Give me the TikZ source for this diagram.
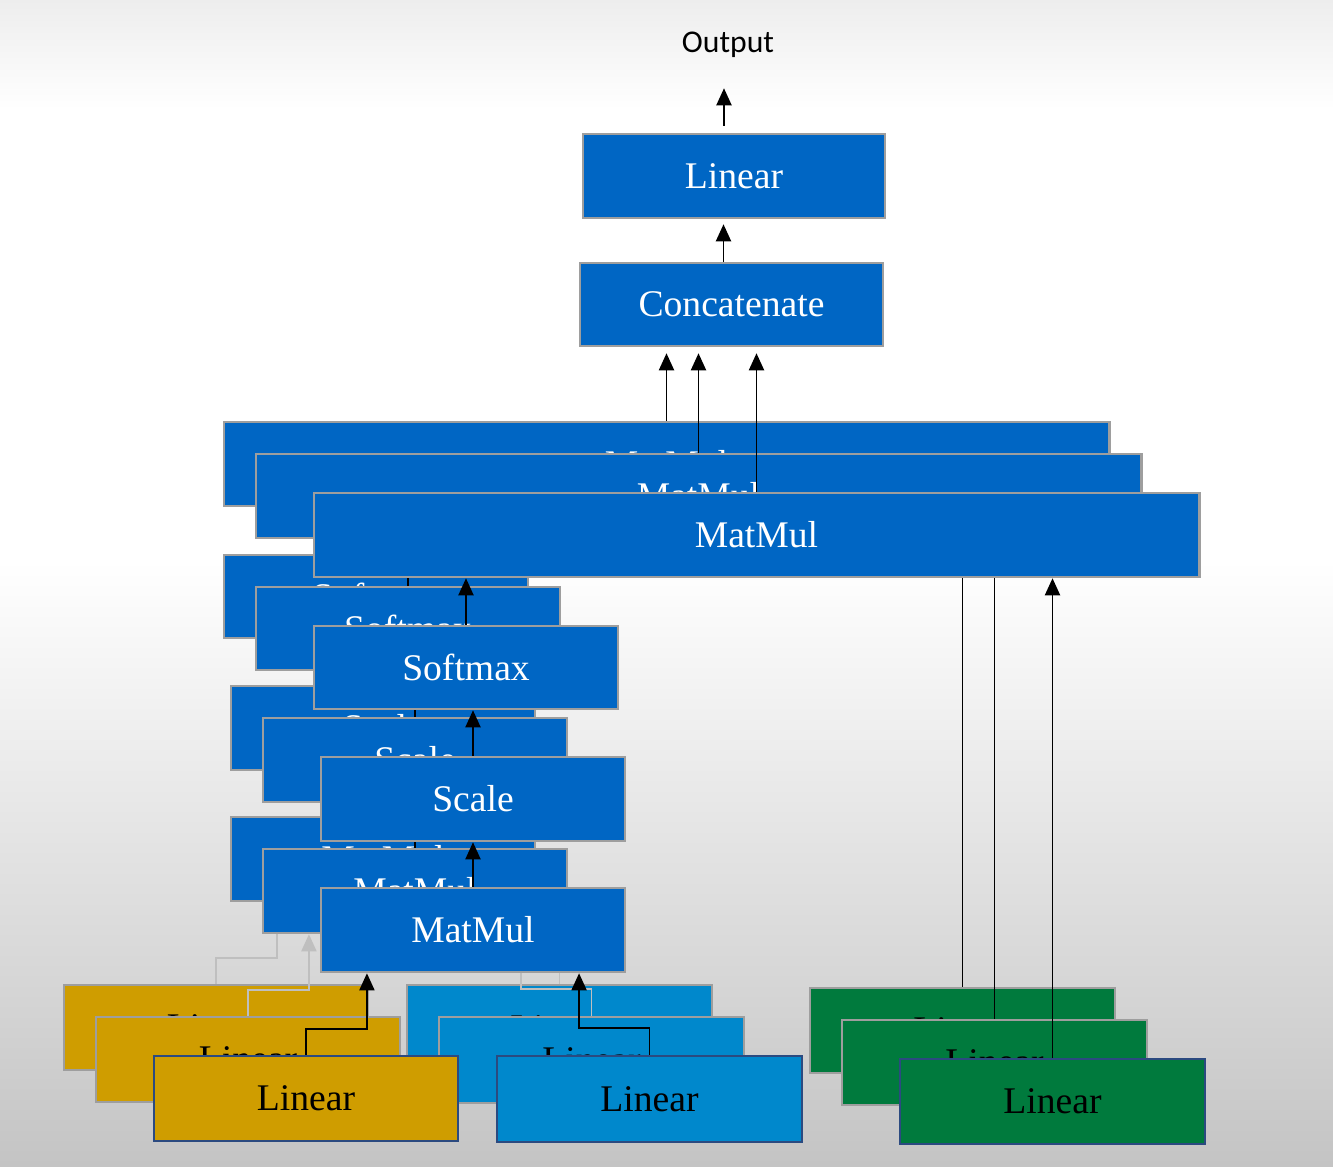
\documentclass[tikz,border=0pt]{standalone}
\usepackage{fontspec}
\setmainfont{Liberation Serif}
\newfontfamily\carlito{Carlito}
\usetikzlibrary{arrows.meta}
\definecolor{boxblue}{HTML}{0066C4}
\definecolor{qyellow}{HTML}{CF9D00}
\definecolor{kblue}{HTML}{0088CC}
\definecolor{vgreen}{HTML}{007A3D}
\definecolor{edgegray}{HTML}{9E9E9E}
\definecolor{navy}{HTML}{2B4A80}
\definecolor{bggray}{HTML}{C4C4C4}
\colorlet{lnkb}{black!25}
\colorlet{lnkm}{black!25}
\colorlet{lnkf}{black}
\colorlet{bdb}{edgegray}
\colorlet{bdm}{edgegray}
\colorlet{bdf}{navy}

\begin{document}
\begin{tikzpicture}[x=0.01cm, y=-0.01cm, font=\fontsize{10.7}{12}\selectfont,
    box/.style={draw=edgegray, line width=0.7pt, fill=boxblue, text=white, minimum width=3.04cm, minimum height=0.84cm, inner sep=0pt},
    inp/.style={box, text=black, minimum height=0.85cm},
    arr/.style={line width=0.55pt, -{Triangle[width=0.15cm,length=0.17cm]}}]
        \shade[top color=white, bottom color=bggray] (0,560) rectangle (1333,1166);
        \fill[white] (0,110) rectangle (1333,560);
        \shade[top color=black!7, bottom color=white] (0,0) rectangle (1333,110);
        \useasboundingbox (0,0) rectangle (1333,1166);

        \node[font=\carlito\fontsize{9}{11}\selectfont] (out) at (728,45) {Output};
        \node[box, minimum width=3.02cm] (lin) at (734,176) {Linear};
        \node[box, minimum width=3.03cm, minimum height=0.83cm] (cat) at (731.5,304.5) {Concatenate};

        \draw[arr, shorten <=0.07cm, shorten >=0.18cm] ([xshift=-0.1cm]lin.north) -- ([xshift=-0.1cm]lin.north |- out.south);
        \draw[arr, shorten >=0.05cm] ([xshift=-0.08cm]cat.north) -- ([xshift=-0.08cm]cat.north |- lin.south);

        \foreach \l/\dx/\dy in {b/-90/-71, m/-58/-39, f/0/0} {
            \begin{scope}[shift={(\dx,\dy)}]
                \node[inp, fill=qyellow, draw=bd\l] (lq\l) at (306,1098.5) {Linear};
                \node[inp, fill=kblue, draw=bd\l, minimum width=3.05cm, minimum height=0.86cm] (lk\l) at (649.5,1099) {Linear};
                \node[inp, fill=vgreen, draw=bd\l, minimum width=3.05cm] (lv\l) at (1052.5,1101.5) {Linear};
                \node[box] (mm\l) at (473,930) {MatMul};
                \node[box] (sc\l) at (473,799) {Scale};
                \node[box, minimum height=0.83cm] (sm\l) at (466,667.5) {Softmax};
                \node[box, minimum width=8.85cm] (MM\l) at (756.5,535) {MatMul};
            \end{scope}
            \draw[arr, draw=lnk\l] (lq\l.north) -- ++(0,-26) -| ([xshift=-1.06cm]mm\l.south);
            \draw[arr, draw=lnk\l] (lk\l.north) -- ++(0,-27) -| ([xshift=1.06cm]mm\l.south);
            \draw[arr] (lv\l.north) -- (lv\l.north |- MM\l.south);
            \draw[arr] (mm\l.north) -- (mm\l.north |- sc\l.south);
            \draw[arr] (sc\l.north) -- (sc\l.north |- sm\l.south);
            \draw[arr] (sm\l.north) -- (sm\l.north |- MM\l.south);
            \draw[arr, shorten >=0.06cm] (MM\l.north) -- (MM\l.north |- cat.south);
        }
    \end{tikzpicture}
\end{document}
